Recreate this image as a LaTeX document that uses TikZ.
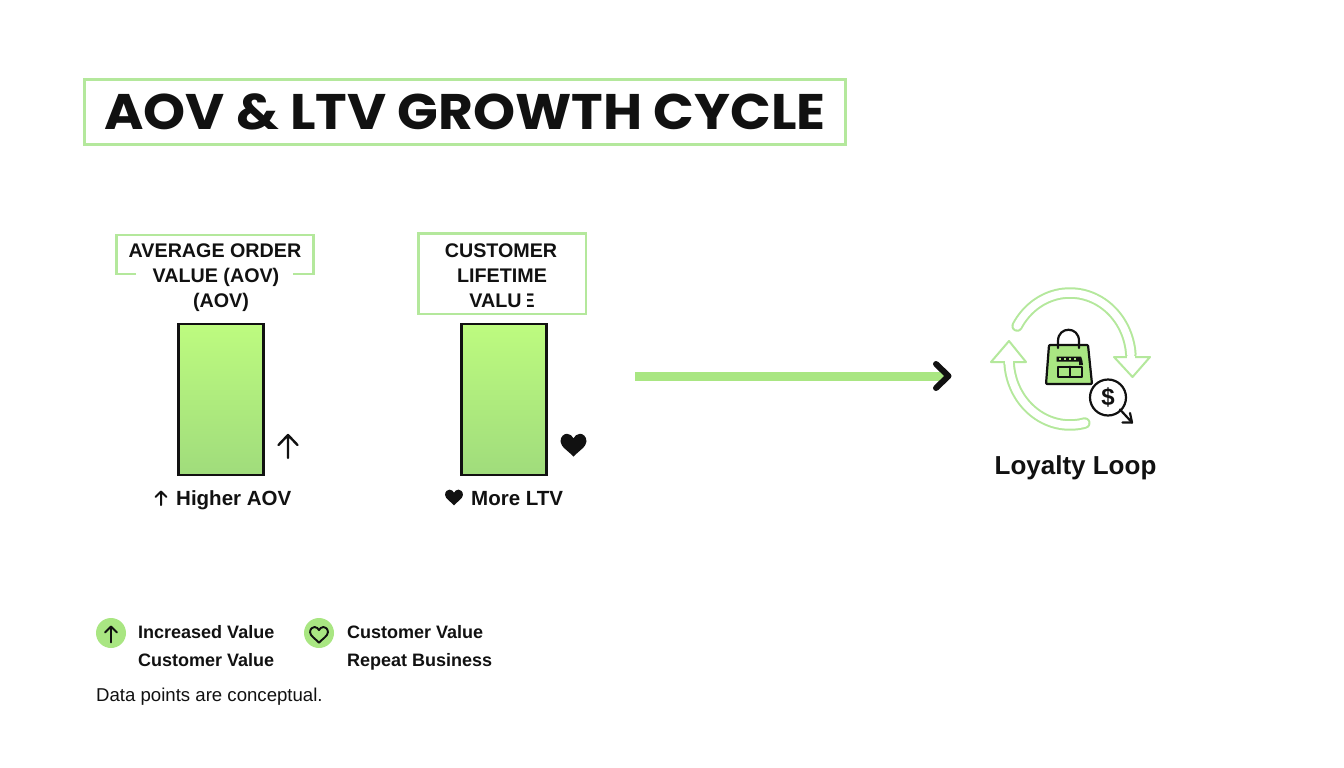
\documentclass[tikz,border=0pt]{standalone}
\usepackage{fontspec}
\setmainfont{Liberation Sans}
\newfontfamily\titlefont{Poppins}[UprightFont=* Bold,BoldFont=* Bold,FakeStretch=1.07]
\usetikzlibrary{arrows.meta}
\definecolor{leaf}{HTML}{A9E682}
\definecolor{paleleaf}{HTML}{B4E89C}
\definecolor{barTop}{HTML}{BDFB7F}
\definecolor{barBot}{HTML}{A0DC7C}
\definecolor{ink}{HTML}{111111}
\tikzset{
  x=1pt,y=-1pt,
  every node/.style={text=ink,inner sep=0pt},
  framebox/.style={draw=paleleaf,line width=2.1pt},
  bar/.style={draw=ink,line width=2.2pt,top color=barTop,bottom color=barBot},
  headtxt/.style={font=\fontsize{19.7}{20}\selectfont\bfseries,anchor=base},
  captxt/.style={font=\fontsize{20.5}{21}\selectfont\bfseries,anchor=base west},
  legtxt/.style={font=\fontsize{18}{18}\selectfont\bfseries,anchor=base west},
  loopband/.style={draw=paleleaf,line width=2pt,double=white,double distance=7.5pt,line cap=round},
  loophead/.style={draw=paleleaf,line width=2pt,fill=white,line join=round},
  icon/.style={draw=ink,line width=2.2pt,line cap=round,line join=round},
  heartfill/.pic={\fill[ink] (0,7) .. controls (-3,3.5) and (-8.5,0.5) .. (-8.5,-3) .. controls (-8.5,-6.5) and (-6,-8) .. (-4.2,-8) .. controls (-2.2,-8) and (-0.8,-6.5) .. (0,-5) .. controls (0.8,-6.5) and (2.2,-8) .. (4.2,-8) .. controls (6,-8) and (8.5,-6.5) .. (8.5,-3) .. controls (8.5,0.5) and (3,3.5) .. (0,7) -- cycle;},
  heartline/.pic={\draw[ink,line width=1.9pt,line join=round] (0,7) .. controls (-3,3.5) and (-8.5,0.5) .. (-8.5,-3) .. controls (-8.5,-6.5) and (-6,-8) .. (-4.2,-8) .. controls (-2.2,-8) and (-0.8,-6.5) .. (0,-5) .. controls (0.8,-6.5) and (2.2,-8) .. (4.2,-8) .. controls (6,-8) and (8.5,-6.5) .. (8.5,-3) .. controls (8.5,0.5) and (3,3.5) .. (0,7) -- cycle;},
}
\begin{document}
\begin{tikzpicture}
\useasboundingbox (0,0) rectangle (1344,768);
\fill[white] (0,0) rectangle (1344,768);
% title
\draw[framebox] (84.5,79.5) rectangle (845.5,144.5);
\node[font=\titlefont\fontsize{50}{50}\selectfont,anchor=center] (title) at (465,112) {AOV \& LTV GROWTH CYCLE};
% header boxes
\draw[framebox] (136,274) -- (116.5,274) -- (116.5,235) -- (313.5,235) -- (313.5,274) -- (293,274);
\node[headtxt] (aov1) at (215,257) {AVERAGE ORDER};
\node[headtxt] (aov2) at (216,282) {VALUE (AOV)};
\node[headtxt] (aov3) at (221,307) {(AOV)};
\draw[framebox] (418.5,233.5) rectangle (586,314);
\node[headtxt] (ltv1) at (501,257) {CUSTOMER};
\node[headtxt] (ltv2) at (502,282) {LIFETIME};
\node[headtxt] (ltv3) at (502,307.5) {VALUE};
\fill[white] (521.5,292) rectangle (527,309);
% bars
\node[bar,minimum width=85pt,minimum height=151pt] (bar1) at (221,399.5) {};
\node[bar,minimum width=85pt,minimum height=151pt] (bar2) at (504,399.5) {};
% side marks
\draw[icon,line width=2.4pt] (288,458) -- (288,435) (278.5,445) -- (288,435) -- (297.5,445);
\pic[scale=1.53] at (573.5,446) {heartfill};
% captions
\draw[icon,line width=2pt] (161,505) -- (161,491.5) (155.5,497) -- (161,491.5) -- (166.5,497);
\pic[scale=1.05] at (454,498) {heartfill};
\node[captxt] (cap1) at (176,505.5) {Higher AOV};
\node[captxt] (cap2) at (471,505.5) {More LTV};
% main arrow
\coordinate (arrowStart) at (635,376);
\coordinate (arrowEnd) at (945,376);
\draw[leaf,line width=9pt] (arrowStart) -- (arrowEnd);
\draw[ink,line width=6pt,line cap=round,line join=round] (936,364) -- (948.5,376) -- (936,388);
% loop
\draw[loopband] plot[domain=150:4,samples=50] ({1070+61*cos(\x)},{359-66*sin(\x)});
\draw[loophead] (1114,357) -- (1150,357) -- (1132.5,377) -- cycle;
\fill[white] (1127.3,355.5) rectangle (1134.8,358.8);
\draw[loopband] plot[domain=-76:-178,samples=50] ({1070+61*cos(\x)},{359-66*sin(\x)});
\draw[loophead] (991,362) -- (1026,362) -- (1009,341) -- cycle;
\fill[white] (1005.2,360.2) rectangle (1012.8,363.5);
% bag
\draw[icon,fill=leaf,rounded corners=1pt] (1049,345) -- (1088,345) -- (1092,384) -- (1046,384) -- cycle;
\draw[icon] (1058,348) -- (1058,341) .. controls (1058,326) and (1079,326) .. (1079,341) -- (1079,348);
\fill[ink] (1056.5,356.5) -- (1081,356.5) .. controls (1082,359) and (1083,362) .. (1083,365) -- (1079,365) -- (1079,361.5) -- (1056.5,361.5) -- cycle;
\foreach \xx in {1059,1064,1069,1074} \fill[leaf] (\xx,358) rectangle +(2.4,2.2);
\draw[icon,line width=2pt] (1057.5,366.5) rectangle (1082,377);
\draw[icon,line width=2pt] (1069.5,366.5) -- (1069.5,377);
% dollar
\node[draw=ink,line width=2.2pt,fill=white,circle,minimum size=36pt,font=\fontsize{24}{24}\selectfont\bfseries] (dollar) at (1108,397.5) {\$};
\coordinate (dollarEnd) at (1132,422.5);
\draw[icon] (dollar) ++(12,12) -- (dollarEnd);
\draw[icon] (1122.5,422.5) -- (dollarEnd) -- (1130,413);
\node[font=\fontsize{26}{26}\selectfont\bfseries,anchor=base] (loop) at (1075.5,474) {Loyalty Loop};
% legend
\node[circle,fill=leaf,minimum size=30pt] (leg1) at (111,633) {};
\draw[icon,line width=1.9pt] (111,642.5) -- (111,626.5) (105,632.5) -- (111,626.5) -- (117,632.5);
\node[circle,fill=leaf,minimum size=30pt] (leg2) at (319,633) {};
\pic[scale=1.05] at (319,635.4) {heartline};
\node[legtxt] (t1) at (138,638.5) {Increased Value};
\node[legtxt] (t2) at (138,666.5) {Customer Value};
\node[legtxt] (t3) at (347,638.5) {Customer Value};
\node[legtxt] (t4) at (347,666.5) {Repeat Business};
\node[font=\fontsize{18.6}{18}\selectfont,anchor=base west] (note) at (96,701.5) {Data points are conceptual.};
\end{tikzpicture}
\end{document}
